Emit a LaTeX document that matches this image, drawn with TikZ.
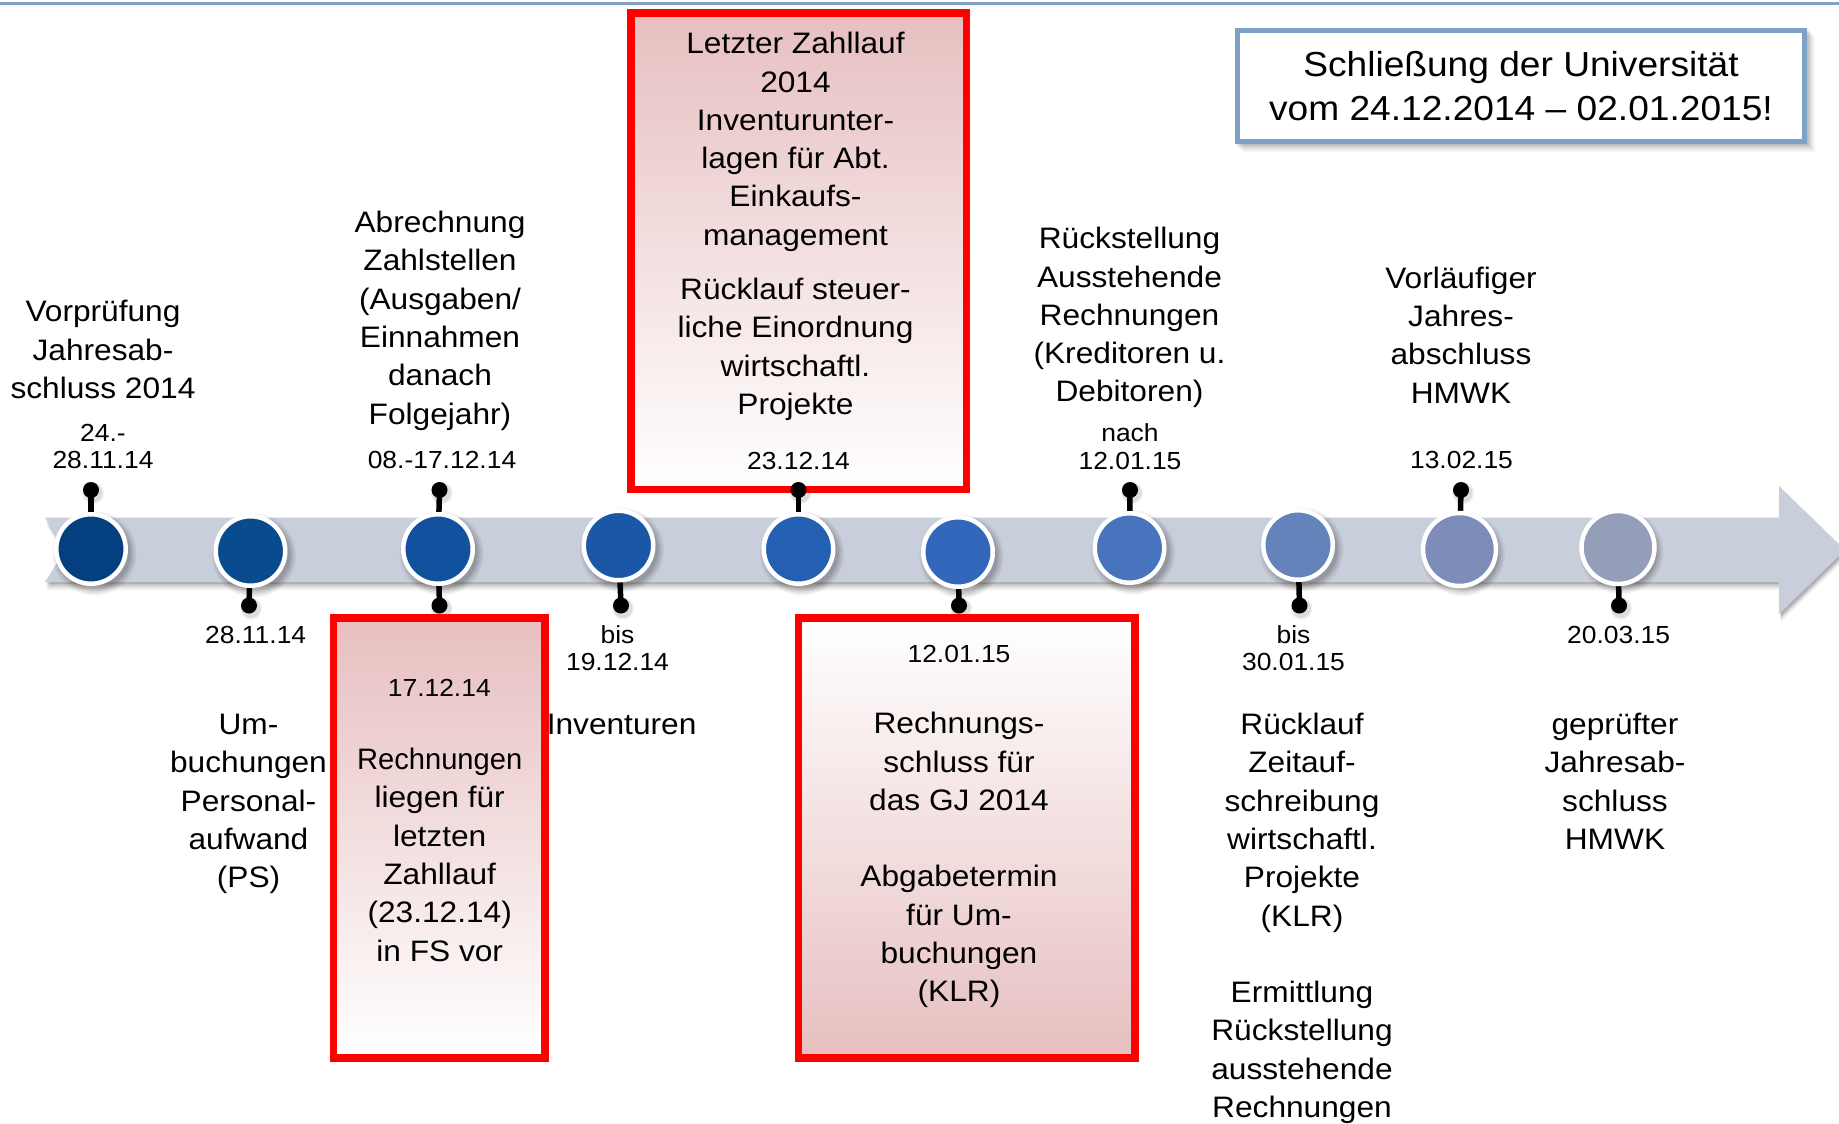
\documentclass[tikz,border=0pt]{standalone}
\usepackage{fontspec}
\setmainfont{Liberation Sans}[FakeStretch=1.07]
\pgfdeclarelayer{back}
\pgfdeclarelayer{mid}
\pgfsetlayers{back,mid,main}
\definecolor{bandc}{RGB}{201,206,219}
\definecolor{toplinec}{RGB}{130,160,195}
\definecolor{boxblue}{RGB}{126,161,198}
\definecolor{pinkf}{RGB}{231,191,192}
\definecolor{redc}{RGB}{255,0,0}
\definecolor{cA}{HTML}{04407F}
\definecolor{cB}{HTML}{084B8F}
\definecolor{cC}{HTML}{12519D}
\definecolor{cD}{HTML}{1A58A7}
\definecolor{cE}{HTML}{2460B2}
\definecolor{cF}{HTML}{3267BB}
\definecolor{cG}{HTML}{4873BD}
\definecolor{cH}{HTML}{6483BB}
\definecolor{cI}{HTML}{7D8CB9}
\definecolor{cJ}{HTML}{949EB8}
\newcommand\mainsz{\fontsize{29.6pt}{38.3pt}\selectfont}
\newcommand\datesz{\fontsize{24.7pt}{27.3pt}\selectfont}
\newcommand\boxsz{\fontsize{34.7pt}{44.4pt}\selectfont}
\newcommand\mstrut{\rule{0pt}{24pt}}
\newcommand\dstrut{\rule{0pt}{20pt}}
\newcommand\bandpath{(45,517.5) -- (1779,517.5) -- (1779,486) -- (1845,550) -- (1779,614) -- (1779,582) -- (45,582) -- (65,550) -- cycle}
\begin{document}
\begin{tikzpicture}[x=1pt,y=-1pt,
  dot/.style={circle, draw=white, line width=4.5pt, minimum size=69.5pt, inner sep=0pt},
  bigdot/.style={dot, minimum size=73pt},
  ball/.style={circle, fill=black, minimum size=16pt, inner sep=0pt},
  stem/.style={line width=5.5pt, black},
  redbox/.style={draw=redc, line width=7.7pt, inner sep=0pt},
  txt/.style={font=\mainsz, align=center, inner sep=0pt, anchor=north},
  dt/.style={font=\datesz, align=center, inner sep=0pt, anchor=north}]
\useasboundingbox (0,0) rectangle (1839,1124);

% background: top rule, band with shadow, box shadow
\begin{pgfonlayer}{back}
  \fill[white] (0,0) rectangle (1839,1124);
  \draw[toplinec, line width=3.5pt] (0,3.3) -- (1839,3.3);
  \foreach \s/\o in {2/0.12,4/0.10,6/0.07,8/0.05}
    \fill[black, opacity=\o, shift={(1.5,\s)}] \bandpath;
  \fill[bandc] \bandpath;
  \foreach \s/\o in {2/0.10,4/0.08,6/0.06,8/0.04}
    \fill[black, opacity=\o] (1235+\s,28+\s) rectangle (1807+\s,144+\s);
\end{pgfonlayer}

% closing notice
\node[draw=boxblue, line width=5pt, fill=white, minimum width=567pt, minimum height=111pt,
      font=\boxsz, align=center, inner sep=0pt] (closed) at (1521,86)
  {Schließung der Universität\\vom 24.12.2014 – 02.01.2015!};

% red highlight boxes
\node[redbox, top color=pinkf, bottom color=white, minimum width=335.7pt, minimum height=476.5pt] (rtop) at (798.6,251.2) {};
\node[redbox, top color=pinkf, bottom color=white, minimum width=211.5pt, minimum height=440pt] (rbl) at (439.2,838) {};
\node[redbox, top color=white, bottom color=pinkf, minimum width=336.4pt, minimum height=440pt] (rbr) at (966.8,838) {};

% milestones
\node[dot, fill=cA] (p1) at (91,549) {};
\node[dot, fill=cB] (p2) at (250.5,551) {};
\node[dot, fill=cC] (p3) at (438,549) {};
\node[dot, fill=cD] (p4) at (618.5,545.5) {};
\node[dot, fill=cE] (p5) at (798.5,549) {};
\node[dot, fill=cF] (p6) at (958,552) {};
\node[dot, fill=cG] (p7) at (1129.5,548) {};
\node[dot, fill=cH] (p8) at (1298,545) {};
\node[bigdot, fill=cI] (p9) at (1459.5,549.5) {};
\node[bigdot, fill=cJ] (p10) at (1618,547.5) {};

% pin heads
\node[ball] (b1) at (91,490) {};
\node[ball] (b2) at (249,605.5) {};
\node[ball] (b3t) at (439.5,490) {};
\node[ball] (b3b) at (439.5,605.5) {};
\node[ball] (b4) at (621,605.5) {};
\node[ball] (b5) at (798.5,490) {};
\node[ball] (b6) at (959,605.5) {};
\node[ball] (b7) at (1130,490) {};
\node[ball] (b8) at (1299.5,605.5) {};
\node[ball] (b9) at (1461,490) {};
\node[ball] (b10) at (1619,605.5) {};

% shadows and stems
\begin{pgfonlayer}{mid}
  \foreach \n in {p1,p2,p3,p4,p5,p6,p7,p8,p9,p10}
    \foreach \r/\o in {42/0.05,40/0.07,38/0.08,36/0.09}
      \fill[black, opacity=\o] ([shift={(3.5,4.5)}]\n.center) circle (\r pt);
  \foreach \n in {b1,b2,b3t,b3b,b4,b5,b6,b7,b8,b9,b10}
    \foreach \r/\o in {11/0.06,9.5/0.08}
      \fill[black, opacity=\o] ([shift={(2,3)}]\n.center) circle (\r pt);
  \draw[stem] (b1.center) -- (p1.center);
  \draw[stem] (b2.center) -- (p2.center);
  \draw[stem] (b3t.center) -- (p3.center);
  \draw[stem] (b3b.center) -- (p3.center);
  \draw[stem] (b4.center) -- (p4.center);
  \draw[stem] (b5.center) -- (p5.center);
  \draw[stem] (b6.center) -- (p6.center);
  \draw[stem] (b7.center) -- (p7.center);
  \draw[stem] (b8.center) -- (p8.center);
  \draw[stem] (b9.center) -- (p9.center);
  \draw[stem] (b10.center) -- (p10.center);
\end{pgfonlayer}

% upper labels
\node[txt] (t1) at (103,297.7) {\mstrut Vorprüfung\\Jahresab-\\schluss 2014};
\node[dt] (d1) at (103,421.3) {\dstrut 24.-\\28.11.14};
\node[txt] (t3) at (440,208.3) {\mstrut Abrechnung\\Zahlstellen\\(Ausgaben/\\Einnahmen\\danach\\Folgejahr)};
\node[dt] (d3) at (442,448.3) {\dstrut 08.-17.12.14};
\node[txt] (t5) at (795.5,29.5) {\mstrut Letzter Zahllauf\\2014\\Inventurunter-\\lagen für Abt.\\Einkaufs-\\management\\[16pt]Rücklauf steuer-\\liche Einordnung\\wirtschaftl.\\Projekte};
\node[dt] (d5) at (798.5,449.3) {\dstrut 23.12.14};
\node[txt] (t7) at (1129.5,224.5) {\mstrut Rückstellung\\Ausstehende\\Rechnungen\\(Kreditoren u.\\Debitoren)};
\node[dt] (d7) at (1130,421.5) {\dstrut nach\\12.01.15};
\node[txt] (t9) at (1461,264) {\mstrut Vorläufiger\\Jahres-\\abschluss\\HMWK};
\node[dt] (d9) at (1461.5,448.3) {\dstrut 13.02.15};

% lower labels
\node[dt] (d2) at (255.7,622.8) {\dstrut 28.11.14};
\node[txt] (t2) at (248.5,710.3) {\mstrut Um-\\buchungen\\Personal-\\aufwand\\(PS)};
\node[dt] (d3b) at (439.3,676) {\dstrut 17.12.14};
\node[txt] (t3b) at (439.7,745.4) {\mstrut \scalebox{0.92}[1]{Rechnungen}\\liegen für\\letzten\\Zahllauf\\(23.12.14)\\in FS vor};
\node[dt] (d4) at (617.5,623) {\dstrut bis\\19.12.14};
\node[txt] (t4) at (621.6,710.3) {\mstrut Inventuren};
\node[dt] (d6) at (959,642) {\dstrut 12.01.15};
\node[txt] (t6) at (959,709.5) {\mstrut Rechnungs-\\schluss für\\das GJ 2014\\[38.3pt]Abgabetermin\\für Um-\\buchungen\\(KLR)};
\node[dt] (d8) at (1293.5,623) {\dstrut bis\\30.01.15};
\node[txt] (t8) at (1302,710.3) {\mstrut Rücklauf\\Zeitauf-\\schreibung\\wirtschaftl.\\Projekte\\(KLR)\\[38.3pt]Ermittlung\\Rückstellung\\ausstehende\\Rechnungen};
\node[dt] (d10) at (1618.6,622.8) {\dstrut 20.03.15};
\node[txt] (t10) at (1615,710.3) {\mstrut geprüfter\\Jahresab-\\schluss\\HMWK};
\end{tikzpicture}
\end{document}
